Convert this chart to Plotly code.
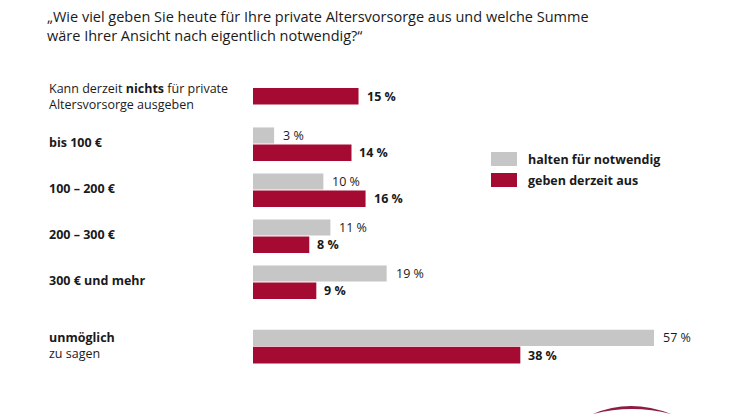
import plotly.graph_objects as go

# ---- data ----
categories = [
    "Kann derzeit <b>nichts</b> für private<br>Altersvorsorge ausgeben",
    "<b>bis 100 €</b>",
    "<b>100 – 200 €</b>",
    "<b>200 – 300 €</b>",
    "<b>300 € und mehr</b>",
    "<b>unmöglich</b><br>zu sagen",
]
notwendig = [None, 3, 10, 11, 19, 57]      # halten für notwendig
derzeit = [15, 14, 16, 8, 9, 38]           # geben derzeit aus
series_names = ["halten für notwendig", "geben derzeit aus"]
title_lines = [
    "„Wie viel geben Sie heute für Ihre private Altersvorsorge aus und welche Summe",
    "wäre Ihrer Ansicht nach eigentlich notwendig?“",
]

# ---- layout constants ----
OFF = 8                           # page body margin of the html page
W, H = 746, 419
ML, MR, MT, MB = 253 - OFF, 15, 60, 40
PW, PH = W - ML - MR, H - MT - MB
UNIT = 46.0                       # px per row unit
row_pos = [0, 1, 2, 3, 4, 5.4]    # vertical row positions (layout)
y_top = -(98 - OFF - MT) / UNIT
y_bot = y_top + PH / UNIT
GRAY = "#C6C6C6"
RED = "#A50A32"
TXT = "#1A1A1A"
FONT = "Open Sans"

def px(x):
    return (x - OFF - ML) / PW

def py(y):
    return 1 - (y - OFF - MT) / PH

fig = go.Figure()

g_rows = [r for r, v in zip(row_pos, notwendig) if v is not None]
g_vals = [v for v in notwendig if v is not None]
fig.add_trace(go.Bar(
    x=g_vals, y=g_rows, orientation="h", name=series_names[0],
    marker=dict(color=GRAY, line=dict(width=0)),
    width=0.35, offset=-0.36, showlegend=False, hoverinfo="x",
))
red_offsets = [-0.22 if v is None else 0.01 for v in notwendig]
fig.add_trace(go.Bar(
    x=derzeit, y=row_pos, orientation="h", name=series_names[1],
    marker=dict(color=RED, line=dict(width=0)),
    width=0.36, offset=red_offsets, showlegend=False, hoverinfo="x",
))

ann = []
# value labels
for r, v in zip(g_rows, g_vals):
    ann.append(dict(x=v, y=r - 0.36 + 0.175, xref="x", yref="y", text=f"{v} %",
                    showarrow=False, xanchor="left", yanchor="middle", xshift=7,
                    font=dict(family=FONT, size=12.5, color=TXT)))
for r, v, o in zip(row_pos, derzeit, red_offsets):
    ann.append(dict(x=v, y=r + o + 0.18, xref="x", yref="y", text=f"<b>{v} %</b>",
                    showarrow=False, xanchor="left", yanchor="middle", xshift=6,
                    font=dict(family=FONT, size=12.5, color=TXT)))
# category labels
for r, c in zip(row_pos, categories):
    ann.append(dict(x=px(47), y=r - 0.03, xref="paper", yref="y", text=c,
                    showarrow=False, xanchor="left", yanchor="middle", align="left",
                    font=dict(family=FONT, size=12.5, color=TXT)))
# title lines
for i, t in enumerate(title_lines):
    ann.append(dict(x=px(45), y=py(16 + 20 * i), xref="paper", yref="paper", text=t,
                    showarrow=False, xanchor="left", yanchor="middle",
                    font=dict(family=FONT, size=14.5, color=TXT)))
# legend
shapes = []
for i, (nm, col) in enumerate(zip(series_names, [GRAY, RED])):
    y0 = 152 + 21 * i
    shapes.append(dict(type="rect", xref="paper", yref="paper",
                       x0=px(491), x1=px(517), y0=py(y0), y1=py(y0 + 14),
                       fillcolor=col, line=dict(width=0)))
    ann.append(dict(x=px(526), y=py(y0 + 7), xref="paper", yref="paper",
                    text=f"<b>{nm}</b>", showarrow=False, xanchor="left", yanchor="middle",
                    font=dict(family=FONT, size=12.5, color=TXT)))

# logo swoosh
path = (f"M {px(593)},{py(414)} Q {px(630)},{py(398)} {px(671)},{py(414)} "
        f"Q {px(632)},{py(404)} {px(593)},{py(414)} Z")
shapes.append(dict(type="path", xref="paper", yref="paper", path=path,
                   fillcolor="#8C1D40", line=dict(width=0)))

fig.update_layout(
    width=W, height=H,
    margin=dict(l=ML, r=MR, t=MT, b=MB, pad=0),
    paper_bgcolor="white", plot_bgcolor="white",
    barmode="overlay",
    xaxis=dict(range=[0, PW / 7.035], visible=False, fixedrange=True),
    yaxis=dict(range=[y_bot, y_top], visible=False, fixedrange=True),
    annotations=ann, shapes=shapes,
    font=dict(family=FONT, color=TXT),
    showlegend=False,
)

fig.write_html("out.html")
